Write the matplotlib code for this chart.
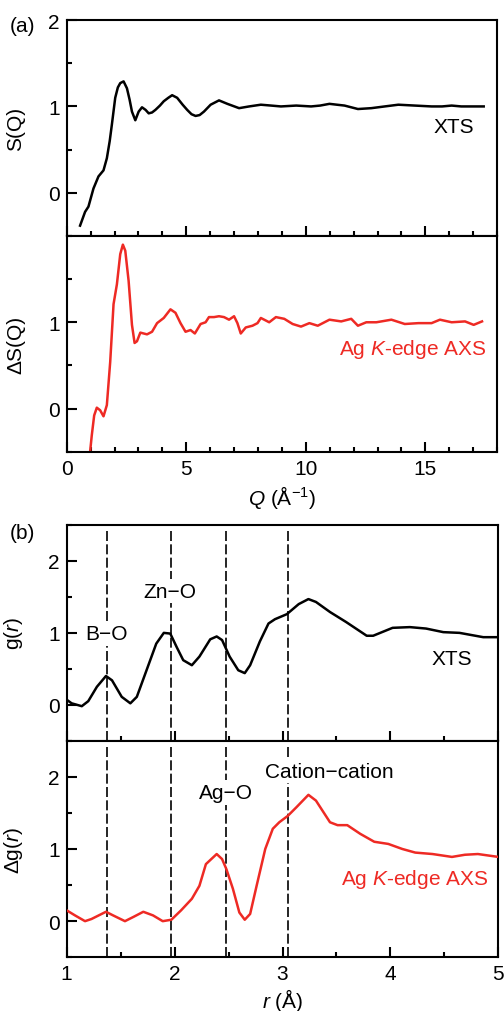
import matplotlib
matplotlib.use('Agg')
import matplotlib.pyplot as plt
from matplotlib.ticker import MultipleLocator

plt.rcParams['font.family'] = 'Liberation Sans'
plt.rcParams['mathtext.fontset'] = 'custom'
plt.rcParams['mathtext.rm'] = 'Liberation Sans'
plt.rcParams['mathtext.it'] = 'Liberation Sans:italic'
plt.rcParams['axes.linewidth'] = 1.5

red = '#ee2a24'
fs = 15
lw = 1.8

# S(Q) from total x-ray scattering
q_xts = [0.56, 0.77, 0.91, 1.12, 1.33, 1.54, 1.68, 1.80, 1.89, 2.03, 2.14, 2.24, 2.38, 2.52, 2.63,
         2.73, 2.87, 3.01, 3.15, 3.30, 3.43, 3.57, 3.71, 3.90, 4.06, 4.25, 4.41, 4.62, 4.85, 5.04,
         5.22, 5.39, 5.56, 5.74, 6.02, 6.37, 6.72, 7.21, 7.63, 8.12, 8.55, 8.96, 9.60, 10.22, 10.60,
         10.99, 11.30, 11.62, 12.18, 12.74, 13.30, 13.87, 14.56, 15.26, 15.70, 16.10, 16.50, 16.94, 17.44]
s_xts = [-0.38, -0.22, -0.16, 0.05, 0.19, 0.26, 0.40, 0.60, 0.79, 1.10, 1.22, 1.27, 1.29, 1.21, 1.08,
         0.94, 0.84, 0.94, 0.99, 0.96, 0.92, 0.93, 0.96, 1.01, 1.06, 1.10, 1.13, 1.10, 1.02, 0.96,
         0.91, 0.89, 0.90, 0.94, 1.02, 1.07, 1.03, 0.98, 1.00, 1.02, 1.01, 1.00, 1.01, 1.00, 1.01,
         1.03, 1.02, 1.01, 0.97, 0.98, 1.00, 1.02, 1.01, 1.00, 1.00, 1.01, 1.00, 1.00, 1.00]

# differential S(Q), Ag K-edge AXS
q_axs = [0.98, 1.05, 1.15, 1.26, 1.40, 1.54, 1.68, 1.82, 1.96, 2.10, 2.24, 2.35, 2.45, 2.59, 2.73,
         2.84, 2.94, 3.08, 3.36, 3.57, 3.78, 4.06, 4.34, 4.55, 4.76, 4.97, 5.18, 5.36, 5.60, 5.81,
         5.95, 6.16, 6.37, 6.58, 6.79, 7.00, 7.14, 7.28, 7.49, 7.77, 7.98, 8.12, 8.47, 8.75, 9.10,
         9.45, 9.80, 10.15, 10.50, 10.99, 11.48, 11.90, 12.18, 12.53, 12.95, 13.58, 14.14, 14.71,
         15.26, 15.61, 16.10, 16.66, 17.02, 17.37]
s_axs = [-0.50, -0.31, -0.08, 0.01, -0.02, -0.09, 0.04, 0.54, 1.21, 1.44, 1.79, 1.90, 1.83, 1.48, 0.97,
         0.76, 0.78, 0.88, 0.86, 0.89, 0.99, 1.05, 1.15, 1.11, 0.99, 0.89, 0.91, 0.87, 0.98, 1.00,
         1.06, 1.06, 1.07, 1.06, 1.03, 1.07, 0.99, 0.87, 0.94, 0.96, 0.99, 1.05, 1.00, 1.06, 1.04,
         0.98, 0.95, 0.99, 0.96, 1.03, 1.01, 1.04, 0.96, 1.00, 1.00, 1.03, 0.98, 0.99,
         0.99, 1.03, 1.00, 1.01, 0.97, 1.01]

# g(r) from XTS
r_xts = [1.0, 1.046, 1.14, 1.20, 1.28, 1.364, 1.42, 1.51, 1.59, 1.65, 1.74, 1.83, 1.90, 1.96, 2.02,
         2.08, 2.16, 2.23, 2.33, 2.39, 2.44, 2.51, 2.59, 2.65, 2.70, 2.79, 2.87, 2.93, 3.04, 3.15,
         3.24, 3.31, 3.44, 3.59, 3.78, 3.84, 4.02, 4.18, 4.33, 4.49, 4.64, 4.86, 5.0]
g_xts = [0.07, 0.02, -0.02, 0.05, 0.25, 0.40, 0.34, 0.11, 0.02, 0.11, 0.48, 0.85, 1.00, 0.99, 0.80,
         0.62, 0.55, 0.67, 0.91, 0.95, 0.90, 0.67, 0.48, 0.44, 0.55, 0.88, 1.13, 1.19, 1.26, 1.40,
         1.47, 1.43, 1.29, 1.15, 0.96, 0.96, 1.07, 1.08, 1.06, 1.01, 1.00, 0.94, 0.94]

# differential g(r), Ag K-edge AXS
r_axs = [1.0, 1.077, 1.17, 1.23, 1.364, 1.43, 1.54, 1.62, 1.71, 1.80, 1.89, 1.97, 2.06, 2.16, 2.23,
         2.29, 2.39, 2.44, 2.48, 2.54, 2.60, 2.65, 2.70, 2.76, 2.84, 2.91, 2.97, 3.05, 3.13, 3.24,
         3.31, 3.44, 3.51, 3.60, 3.72, 3.85, 3.98, 4.11, 4.23, 4.39, 4.57, 4.69, 4.81, 5.0]
g_axs = [0.15, 0.08, 0.0, 0.03, 0.13, 0.08, 0.0, 0.06, 0.13, 0.08, 0.0, 0.02, 0.15, 0.31, 0.49,
         0.79, 0.93, 0.86, 0.72, 0.45, 0.12, 0.02, 0.10, 0.49, 1.00, 1.28, 1.37, 1.46, 1.58, 1.75,
         1.67, 1.37, 1.33, 1.33, 1.21, 1.10, 1.07, 1.00, 0.95, 0.93, 0.89, 0.92, 0.93, 0.89]

# bond distances marked with dashed lines
bond_r = [1.37, 1.97, 2.48, 3.05]

fig = plt.figure(figsize=(5.04, 10.12), dpi=100)
ax1 = fig.add_axes([0.1323, 0.7658, 0.854, 0.2134])
ax2 = fig.add_axes([0.1323, 0.5527, 0.854, 0.2131])
ax3 = fig.add_axes([0.1323, 0.2671, 0.8565, 0.2131])
ax4 = fig.add_axes([0.1323, 0.0531, 0.8565, 0.2140])


def style(ax):
    ax.tick_params(which='both', direction='in', top=False, right=False, labelsize=fs, width=1.5)
    ax.tick_params(which='major', length=7, pad=5)
    ax.tick_params(which='minor', length=3.5)
    ax.yaxis.set_label_coords(-0.097, 0.5)


ax1.plot(q_xts, s_xts, color='black', lw=lw)
ax1.set_xlim(0, 18)
ax1.set_ylim(-0.5, 2)
ax1.set_yticks([0, 1, 2])
ax1.set_ylabel('S(Q)', fontsize=fs)
ax1.text(16.2, 0.77, 'XTS', fontsize=fs, ha='center', va='center')

ax2.plot(q_axs, s_axs, color=red, lw=lw)
ax2.set_xlim(0, 18)
ax2.set_ylim(-0.5, 2)
ax2.set_yticks([0, 1])
ax2.set_ylabel('ΔS(Q)', fontsize=fs)
ax2.set_xlabel(r'$Q$ (Å$^{-1}$)', fontsize=fs, labelpad=4)
ax2.text(14.45, 0.70, r'Ag $K$-edge AXS', fontsize=fs, color=red, ha='center', va='center')

for ax in (ax1, ax2):
    ax.xaxis.set_major_locator(MultipleLocator(5))
    ax.xaxis.set_minor_locator(MultipleLocator(1))
    ax.yaxis.set_minor_locator(MultipleLocator(0.5))
    style(ax)
ax1.tick_params(labelbottom=False)

ax3.plot(r_xts, g_xts, color='black', lw=lw, zorder=3)
ax3.set_ylabel(r'g($r$)', fontsize=fs)
ax3.text(4.57, 0.65, 'XTS', fontsize=fs, ha='center', va='center')

ax4.plot(r_axs, g_axs, color=red, lw=lw, zorder=3)
ax4.set_ylabel(r'Δg($r$)', fontsize=fs)
ax4.set_xlabel(r'$r$ (Å)', fontsize=fs, labelpad=2)
ax4.text(4.22, 0.585, r'Ag $K$-edge AXS', fontsize=fs, color=red, ha='center', va='center')

for ax in (ax3, ax4):
    for r in bond_r:
        ax.axvline(r, ymax=0.985, color='black', lw=1.2, dashes=(6, 2), zorder=1)
    ax.set_xlim(1, 5)
    ax.set_ylim(-0.5, 2.5)
    ax.set_yticks([0, 1, 2])
    ax.xaxis.set_major_locator(MultipleLocator(1))
    ax.xaxis.set_minor_locator(MultipleLocator(0.5))
    ax.yaxis.set_minor_locator(MultipleLocator(0.5))
    style(ax)
ax3.tick_params(labelbottom=False)

box = dict(facecolor='white', edgecolor='none', pad=2)
ax3.text(1.37, 0.99, 'B−O', fontsize=fs, ha='center', va='center', bbox=box, zorder=2)
ax3.text(1.96, 1.58, 'Zn−O', fontsize=fs, ha='center', va='center', bbox=box, zorder=2)
ax4.text(2.48, 1.78, 'Ag−O', fontsize=fs, ha='center', va='center', bbox=box, zorder=2)
ax4.text(3.43, 2.08, 'Cation−cation', fontsize=fs, ha='center', va='center', bbox=box, zorder=2)

fig.text(0.02, 1 - 26 / 1012, '(a)', fontsize=fs, va='center')
fig.text(0.02, 1 - 534 / 1012, '(b)', fontsize=fs, va='center')

fig.savefig('out.png', dpi=100)
